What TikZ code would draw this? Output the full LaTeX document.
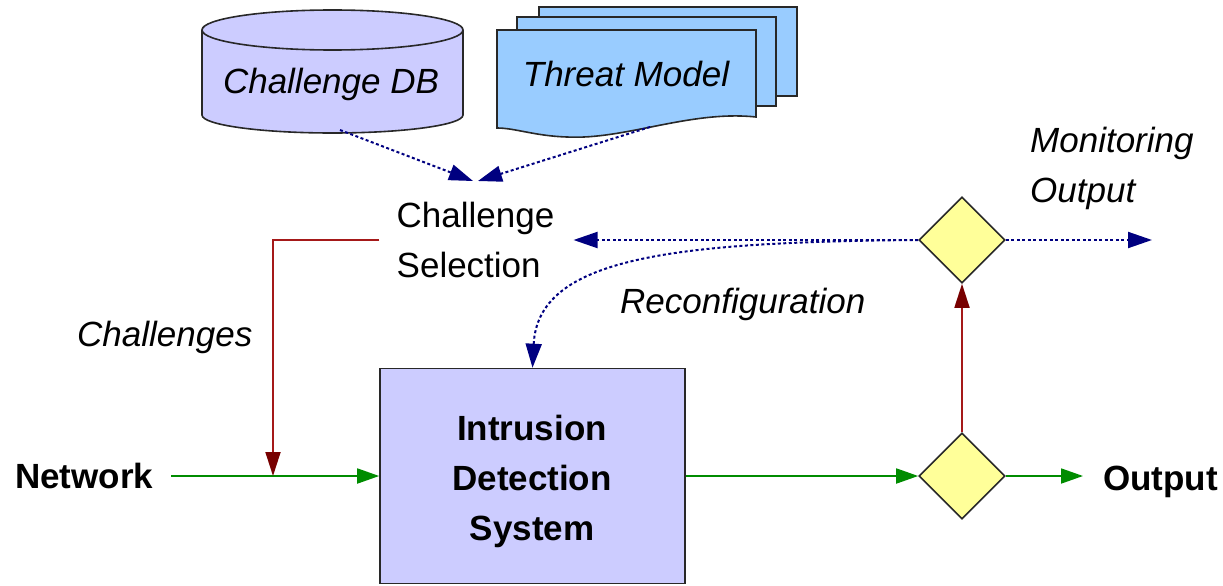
\documentclass[tikz,border=0pt]{standalone}
\usepackage{fontspec}
\setmainfont{Liberation Sans}
\usetikzlibrary{arrows.meta,shapes.geometric}
\definecolor{navyb}{RGB}{0,0,128}
\definecolor{redl}{RGB}{165,25,25}
\definecolor{redh}{RGB}{120,0,0}
\definecolor{greenl}{RGB}{0,140,0}
\definecolor{lav}{RGB}{204,204,255}
\definecolor{lblue}{RGB}{153,204,255}
\definecolor{ylw}{RGB}{255,255,153}
\definecolor{edge}{RGB}{40,40,40}
\begin{document}
\begin{tikzpicture}[x=1pt,y=-1pt,
  txt/.style={font=\fontsize{35}{50}\selectfont, inner sep=0pt},
  itxt/.style={font=\fontsize{35}{50}\selectfont\itshape, inner sep=0pt},
  btxt/.style={font=\fontsize{35}{50}\selectfont\bfseries, inner sep=0pt},
  shapeline/.style={draw=edge, line width=1.6pt},
  dotline/.style={navyb, line width=2pt, dash pattern=on 3pt off 2.5pt,
    -{Triangle[length=24pt,width=16pt]}},
  greenline/.style={draw=greenl, line width=1.8pt,
    -{Triangle[length=22pt,width=15pt,color=greenl]}},
  redline/.style={draw=redl, line width=1.8pt,
    -{Triangle[length=24pt,width=15pt,color=redh]}},
  dec/.style={diamond, shapeline, fill=ylw, minimum width=86pt, minimum height=86pt, inner sep=0pt}
]
\useasboundingbox (0,0) rectangle (1223,586);

% Challenge DB cylinder
\filldraw[shapeline, fill=lav] (202,30) -- (202,115)
  arc[start angle=180, end angle=0, x radius=130.5, y radius=18]
  -- (463,30)
  arc[start angle=0, end angle=-180, x radius=130.5, y radius=20] -- cycle;
\draw[shapeline] (202,30) arc[start angle=180, end angle=0, x radius=130.5, y radius=20];
\node[itxt, anchor=base] (db) at (331,93) {Challenge DB};

% Threat model (multi document)
\filldraw[shapeline, fill=lblue] (539,7) rectangle (797,96);
\filldraw[shapeline, fill=lblue] (517,17) rectangle (776,106);
\filldraw[shapeline, fill=lblue] (497,30) -- (756,30) -- (756,117)
  .. controls (690,110) and (625,140) .. (567,137)
  .. controls (535,136) and (515,128) .. (497,128) -- cycle;
\node[itxt, anchor=base] (tm) at (626,86) {Threat Model};

\coordinate (dbout) at (340,130);
\coordinate (tmout) at (650,127);

% Challenge selection
\node[txt, align=left] (sel) at (475.5,240) {Challenge\\Selection};
\coordinate (selinA) at (473,181);
\coordinate (selinB) at (478,181);
\draw[dotline] (dbout) -- (selinA);
\draw[dotline] (tmout) -- (selinB);

% IDS
\node[shapeline, fill=lav, minimum width=305pt, minimum height=215pt, inner sep=0pt] (ids) at (532.5,476) {};
\node[btxt, align=center] (idstxt) at (532,481) {Intrusion\\Detection\\System};

% left side
\node[btxt, anchor=base west] (net) at (15,488) {Network};
\coordinate (join) at (273,476);
\draw[greenline] ([xshift=18pt]net.east |- ids.west) -- (ids.west);
\draw[redline] ([xshift=-17pt]sel.west) -| (join);
\node[itxt, anchor=base west] (chl) at (77,346) {Challenges};

% diamonds
\node[dec] (lo) at (962,476) {};
\node[dec] (up) at (962,240) {};
\draw[greenline] (ids.east) -- (lo.west);
\node[btxt, anchor=base west] (out) at (1103,490) {Output};
\draw[greenline] (lo.east) -- ([xshift=-20pt]out.west |- lo.east);
\draw[redline] (lo.north) -- (up.south);

% monitoring
\node[itxt, align=left, anchor=west] (mon) at (1030,168) {Monitoring\\Output};
\coordinate (mout) at (1152,240);
\draw[dotline] (up.east) -- (mout);
\draw[dotline] (up.west) -- ([xshift=19pt]sel.east |- up.west);
\draw[dotline] (up.west) .. controls (670,242) and (538,258) .. (ids.north);
\node[itxt, anchor=base west] (rec) at (620,313) {Reconfiguration};
\end{tikzpicture}
\end{document}
